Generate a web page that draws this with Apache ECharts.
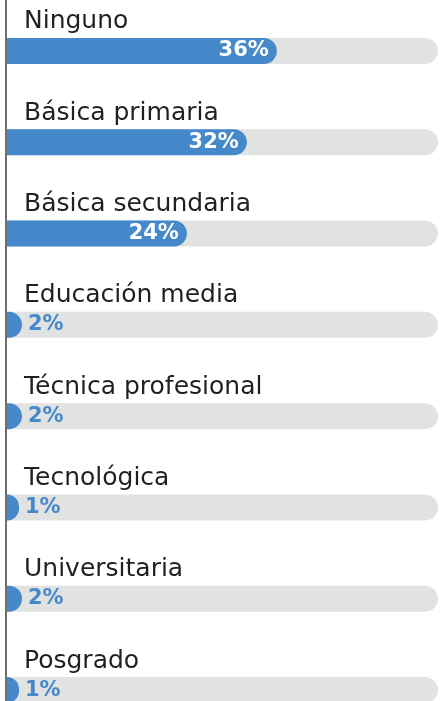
<!DOCTYPE html>
<html>
<head>
<meta charset="utf-8">
<script src="https://cdn.jsdelivr.net/npm/echarts@6/dist/echarts.min.js"></script>
<style>
  html, body { margin: 0; padding: 0; background: #fff; }
  #chart { width: 446px; height: 701px; }
</style>
</head>
<body>
<div id="chart"></div>
<script>
// nivel educativo
const categories = ["Ninguno", "Básica primaria", "Básica secundaria", "Educación media",
  "Técnica profesional", "Tecnológica", "Universitaria", "Posgrado"];
const values = [36, 32, 24, 2, 2, 1, 2, 1];
const axisMax = 57.5;

const blue = "#4589cb";
const track = "#e1e2e2";

const chart = echarts.init(document.getElementById("chart"));

const option = {
  animation: false,
  grid: { left: 7, right: 8, top: 5.3, height: 730.4, outerBoundsMode: "none" },
  // left rule runs the full height of the page
  graphic: [{
    type: "line",
    z: -1,
    shape: { x1: 6, y1: 0, x2: 6, y2: 701 },
    style: { stroke: "#6f6f6f", lineWidth: 2 }
  }],
  xAxis: {
    type: "value",
    min: 0,
    max: axisMax,
    show: false
  },
  yAxis: {
    type: "category",
    data: categories,
    inverse: true,
    axisTick: { show: false },
    axisLine: { show: false },
    axisLabel: {
      inside: true,
      margin: 17,
      verticalAlign: "middle",
      // push the name up above its bar with an empty second line
      formatter: v => "{t|" + v + "}\n{s| }",
      rich: {
        t: { color: "#231f20", fontFamily: "DejaVu Sans", fontSize: 25, lineHeight: 28 },
        s: { fontSize: 10, lineHeight: 58 }
      }
    },
    z: 3
  },
  series: [
    {
      type: "bar",
      barWidth: 26,
      barMinHeight: 12,
      showBackground: true,
      backgroundStyle: { color: track, borderRadius: [0, 13, 13, 0] },
      itemStyle: { color: blue, borderRadius: [0, 13, 13, 0] },
      data: values.map(v => {
        const big = v > 10;
        return {
          value: v,
          label: {
            show: true,
            position: big ? "insideRight" : "right",
            distance: big ? 8 : 6,
            formatter: "{c}%",
            color: big ? "#fff" : blue,
            fontFamily: "DejaVu Sans",
            fontWeight: "bold",
            fontSize: 21
          }
        };
      })
    }
  ]
};

chart.setOption(option);
</script>
</body>
</html>
